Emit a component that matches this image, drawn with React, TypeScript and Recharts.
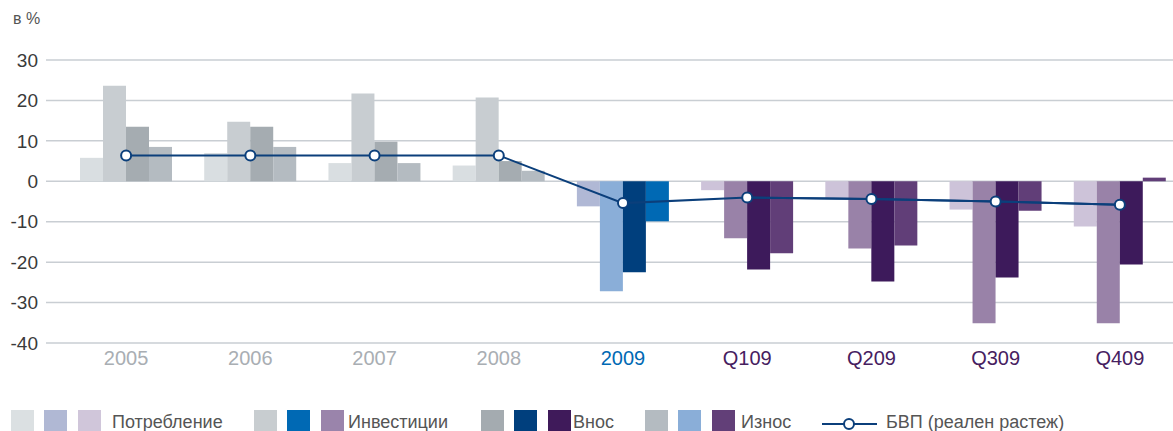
import React from "react";
import { Bar, CartesianGrid, Cell, ComposedChart, Line, XAxis, YAxis } from "recharts";

const categories = ["2005", "2006", "2007", "2008", "2009", "Q109", "Q209", "Q309", "Q409"];
const periodGroup = ["year", "year", "year", "year", "crisis", "quarter", "quarter", "quarter", "quarter"];

const consumption = [5.8, 7.0, 4.5, 3.9, -6.2, -2.2, -4.3, -7.0, -11.2];
const investment = [23.6, 14.7, 21.7, 20.7, -27.2, -14.1, -16.6, -35.1, -35.1];
const imports = [13.5, 13.5, 9.8, 5.0, -22.5, -21.8, -24.8, -23.8, -20.6];
const exports = [8.5, 8.5, 4.5, 2.6, -9.9, -17.8, -15.9, -7.3, 0.9];
const gdp = [6.4, 6.4, 6.4, 6.4, -5.4, -4.0, -4.4, -5.0, -5.8];

const yTicks = [-40, -30, -20, -10, 0, 10, 20, 30];

const PALETTE: Record<string, Record<string, string>> = {
  year: { consumption: "#d9dee1", investment: "#c8cdd1", imports: "#a5acb1", exports: "#b4bbc1", label: "#a9aeb3" },
  crisis: { consumption: "#b0b8d5", investment: "#8aaed8", imports: "#003f7d", exports: "#0069b4", label: "#0069b4" },
  quarter: { consumption: "#cdc3d9", investment: "#9982a8", imports: "#3d1a5b", exports: "#613e78", label: "#46205f" },
};

const LEGEND = [
  { name: "Потребление", colors: ["#dbe0e2", "#b0b8d4", "#d0c6da"], left: 11, textLeft: 112 },
  { name: "Инвестиции", colors: ["#c8cdd0", "#0069b4", "#9a84ab"], left: 254, textLeft: 348 },
  { name: "Внос", colors: ["#a4abb0", "#003f7d", "#3f1a5a"], left: 481, textLeft: 573 },
  { name: "Износ", colors: ["#b4bbc1", "#8aaed8", "#623f78"], left: 645, textLeft: 741 },
];

const LINE_COLOR = "#0b3f7b";
const FONT = '"Liberation Sans", Arial, sans-serif';

const rows = categories.map((name, i) => ({
  name,
  group: periodGroup[i],
  consumption: consumption[i],
  investment: investment[i],
  imports: imports[i],
  exports: exports[i],
  gdp: gdp[i],
  gdpQuarter: periodGroup[i] === "quarter" ? gdp[i] : null,
}));

const series = ["consumption", "investment", "imports", "exports"];

function CategoryTick(props: any) {
  const { x, y, payload, index } = props;
  const group = periodGroup[index] ?? "year";
  return (
    <text x={x} y={y} dy="0.71em" textAnchor="middle" fontSize={20} fontFamily={FONT} fill={PALETTE[group].label}>
      {payload.value}
    </text>
  );
}

export default function App() {
  return (
    <div
      style={{
        position: "absolute",
        left: 0,
        top: 0,
        width: 1173,
        height: 431,
        overflow: "hidden",
        background: "#fff",
        fontFamily: FONT,
      }}
    >
      <span style={{ position: "absolute", left: 13, top: 11, fontSize: 16, lineHeight: "16px", color: "#555" }}>
        в %
      </span>
      <ComposedChart
        width={1182}
        height={376}
        data={rows}
        margin={{ top: 60, right: 0, bottom: 0, left: 0 }}
        barGap={0}
        barSize={23}
      >
        <CartesianGrid vertical={false} stroke="#c9ced3" strokeWidth={1.5} />
        <XAxis
          dataKey="name"
          axisLine={false}
          tickLine={false}
          tickSize={0}
          tickMargin={8}
          interval={0}
          padding={{ left: 18, right: 0 }}
          height={33}
          tick={<CategoryTick />}
        />
        <YAxis
          type="number"
          domain={[-40, 30]}
          ticks={yTicks}
          width={46}
          axisLine={false}
          tickLine={false}
          tickSize={0}
          tickMargin={8}
          tick={{ fontSize: 19, fill: "#3a3a3a", fontFamily: FONT }}
        />
        {series.map((key) => (
          <Bar key={key} dataKey={key} isAnimationActive={false}>
            {rows.map((row, i) => (
              <Cell key={`${key}-${i}`} fill={PALETTE[row.group][key]} />
            ))}
          </Bar>
        ))}
        <Line
          type="linear"
          dataKey="gdp"
          stroke={LINE_COLOR}
          strokeWidth={2}
          dot={{ r: 5, fill: "#fff", stroke: LINE_COLOR, strokeWidth: 2 }}
          activeDot={false}
          isAnimationActive={false}
        />
        <Line
          type="linear"
          dataKey="gdpQuarter"
          stroke={LINE_COLOR}
          strokeWidth={2}
          dot={false}
          activeDot={false}
          connectNulls={false}
          isAnimationActive={false}
        />
      </ComposedChart>
      {LEGEND.map((item) => (
        <React.Fragment key={item.name}>
          {item.colors.map((c, j) => (
            <div
              key={c}
              style={{ position: "absolute", left: item.left + j * 33.4, top: 410, width: 23, height: 22, background: c }}
            />
          ))}
          <span style={{ position: "absolute", left: item.textLeft, top: 413, fontSize: 18, lineHeight: "18px", color: "#555" }}>
            {item.name}
          </span>
        </React.Fragment>
      ))}
      <svg style={{ position: "absolute", left: 820, top: 414 }} width={60} height={20}>
        <line x1={2} y1={10} x2={57} y2={10} stroke={LINE_COLOR} strokeWidth={2} />
        <circle cx={29} cy={10} r={5} fill="#fff" stroke={LINE_COLOR} strokeWidth={2} />
      </svg>
      <span style={{ position: "absolute", left: 886, top: 413, fontSize: 18, lineHeight: "18px", color: "#555" }}>
        БВП (реален растеж)
      </span>
    </div>
  );
}
